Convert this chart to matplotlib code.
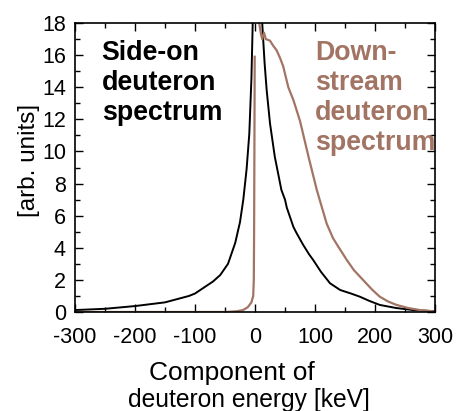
import numpy as np
import matplotlib
matplotlib.use("Agg")
import matplotlib.pyplot as plt
from matplotlib.ticker import MultipleLocator

plt.rcParams['font.family'] = ['Liberation Sans', 'DejaVu Sans']
plt.rcParams['axes.unicode_minus'] = False

# Side-on deuteron spectrum (black)
side_x = [-300, -250, -200, -150, -130, -110, -100, -90, -80, -70, -58, -45, -33, -25,
          -19.5, -14, -9.5, -6, -3.8, -2, 0, 4, 8, 12, 16, 19.5, 25, 33, 44, 50, 53, 64,
          69.5, 80, 90, 97, 110, 125, 142, 160, 175, 190, 208, 235, 264, 300]
side_y = [0.12, 0.2, 0.37, 0.6, 0.8, 1.0, 1.15, 1.4, 1.65, 1.9, 2.3, 3.0, 4.3, 5.6,
          7.0, 8.9, 11.1, 14.5, 18, 21, 24, 25, 22, 18, 15.5, 13.8, 11.75, 9.67, 7.6, 7.0, 6.5, 5.3,
          4.9, 4.2, 3.6, 3.24, 2.5, 1.79, 1.37, 1.15, 0.95, 0.7, 0.44, 0.25, 0.12, 0.05]

# Downstream deuteron spectrum (brown)
down_x = [-300, -100, -60, -50, -40, -30, -20, -12, -6, -3, -2, -1.5, -1, -0.5, 0,
          5, 7, 10, 12, 15, 18, 25, 30, 36, 42, 47, 55.5, 64, 75, 89, 103, 119.5, 130,
          140, 153, 165, 180, 195, 208, 222, 236, 255, 275, 300]
down_y = [0, 0, 0, 0.0, 0.02, 0.05, 0.12, 0.3, 0.6, 1.0, 2.0, 5, 10, 15.9, np.nan,
          20, 18, 17.3, 17.0, 17.4, 17.0, 16.9, 16.6, 16.3, 15.8, 15.3, 14.0, 13.2, 11.9, 9.7, 7.6, 5.5, 4.6,
          4.0, 3.24, 2.6, 2.0, 1.4, 0.95, 0.65, 0.44, 0.25, 0.12, 0.03]

x_ticks = [-300, -200, -100, 0, 100, 200, 300]
y_ticks = [0, 2, 4, 6, 8, 10, 12, 14, 16, 18]

black = '#000000'
brown = '#a27464'

W, H = 461, 411
fig = plt.figure(figsize=(W/100, H/100), dpi=100)
ax = fig.add_axes([75/W, 1-312/H, 360/W, 289/H])

ax.plot(side_x, side_y, color=black, lw=1.4)
ax.plot(down_x, down_y, color=brown, lw=1.6)

ax.set_xlim(-300, 300)
ax.set_ylim(0, 18)
ax.set_xticks(x_ticks)
ax.set_yticks(y_ticks)
ax.xaxis.set_minor_locator(MultipleLocator(50))
ax.yaxis.set_minor_locator(MultipleLocator(1))
ax.tick_params(which='both', direction='in', top=True, right=True, width=1.0)
ax.tick_params(which='major', length=6)
ax.tick_params(which='minor', length=3.5)
ax.tick_params(axis='x', which='major', labelsize=15.5, pad=11)
ax.tick_params(axis='y', which='major', labelsize=15.5, pad=6.5)
for s in ax.spines.values():
    s.set_linewidth(1.2)

fig.text(29/W, 1-160.5/H, '[arb. units]', rotation=90, fontsize=17.5,
         ha='center', va='center')
fig.text(232/W, 1-380/H, 'Component of', fontsize=19, ha='center', va='baseline')
fig.text(249/W, 1-406.5/H, 'deuteron energy [keV]', fontsize=17.7, ha='center', va='baseline')

ax.text(0.074, 0.94, 'Side-on\ndeuteron\nspectrum', transform=ax.transAxes,
        fontsize=19.3, fontweight='bold', color=black, va='top', ha='left',
        linespacing=1.2)
ax.text(0.667, 0.94, 'Down-\nstream\ndeuteron\nspectrum', transform=ax.transAxes,
        fontsize=19.3, fontweight='bold', color=brown, va='top', ha='left',
        linespacing=1.2, clip_on=True)

fig.savefig('out.png', dpi=100)
